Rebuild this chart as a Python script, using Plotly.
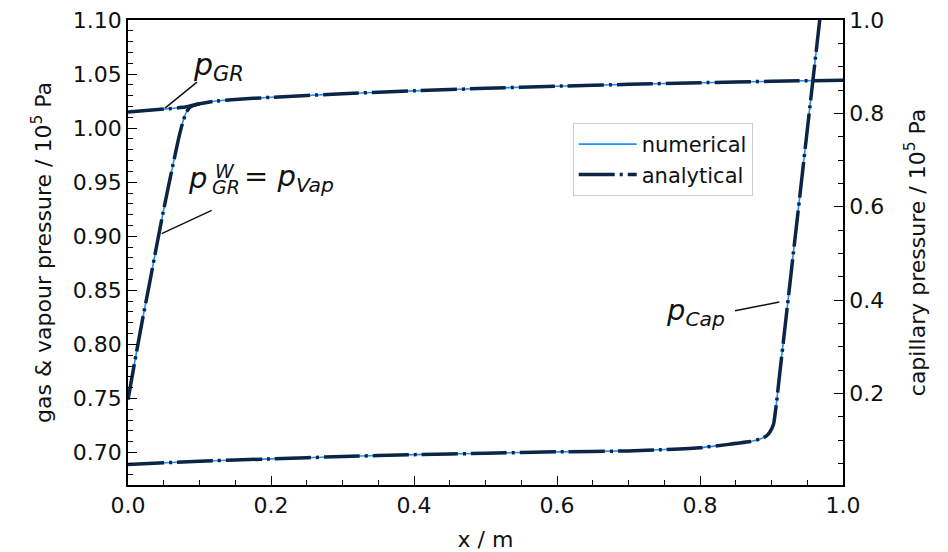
import plotly.graph_objects as go

# ---- data ----
x_gas = [0.0, 0.05, 0.08, 0.10, 0.12, 0.15, 0.20, 0.30, 0.40, 0.50, 0.60, 0.70, 0.80, 0.90, 1.00]
p_gas = [1.0148, 1.0176, 1.0195, 1.0225, 1.0248, 1.0265, 1.0285, 1.0318, 1.0345, 1.0368, 1.0388, 1.0405, 1.0420, 1.0433, 1.0444]

x_vap = [0.0, 0.01, 0.02, 0.03, 0.04, 0.05, 0.06, 0.07, 0.076, 0.081, 0.086, 0.092, 0.10]
p_vap = [0.749, 0.786, 0.822, 0.856, 0.891, 0.925, 0.957, 0.988, 1.004, 1.014, 1.019, 1.021, 1.0225]

x_cap = [0.0, 0.1, 0.2, 0.3, 0.4, 0.5, 0.6, 0.7, 0.75, 0.8, 0.84, 0.87, 0.885, 0.893, 0.898,
         0.903, 0.907, 0.91, 0.92, 0.93, 0.94, 0.95, 0.96, 0.97]
p_cap = [0.048, 0.055, 0.060, 0.065, 0.069, 0.072, 0.075, 0.077, 0.080, 0.084, 0.091, 0.097, 0.103,
         0.109, 0.118, 0.135, 0.180, 0.222, 0.357, 0.493, 0.628, 0.764, 0.899, 1.035]

x_ticks = [0.0, 0.2, 0.4, 0.6, 0.8, 1.0]
y_left_ticks = [0.70, 0.75, 0.80, 0.85, 0.90, 0.95, 1.00, 1.05, 1.10]
y_right_ticks = [0.2, 0.4, 0.6, 0.8, 1.0]

NUM_C = "#1E90FF"
ANA_C = "#0B2545"
FONT = "DejaVu Sans"
TXT_C = "#111111"

fig = go.Figure()

series = [(x_gas, p_gas, "y"), (x_vap, p_vap, "y"), (x_cap, p_cap, "y2")]
for i, (xs, ys, ax) in enumerate(series):
    fig.add_trace(go.Scatter(x=xs, y=ys, yaxis=ax, mode="lines", name="numerical",
                             line=dict(color=NUM_C, width=1.6, shape="spline", smoothing=0.4),
                             showlegend=(i == 0), legendrank=1))
for i, (xs, ys, ax) in enumerate(series):
    fig.add_trace(go.Scatter(x=xs, y=ys, yaxis=ax, mode="lines", name="analytical",
                             line=dict(color=ANA_C, width=3.5, dash="36px,5px,3px,5px",
                                       shape="spline", smoothing=0.4),
                             showlegend=(i == 0), legendrank=2))

# ---- annotations ----
txt = dict(color=TXT_C, family=FONT)
ann = []
ann.append(dict(x=0.127, y=1.0572, xref="x", yref="y", showarrow=False,
                text="<i>p</i><sub><i>GR</i></sub>", font=dict(size=30, **txt)))
# p_GR^W = p_Vap  (stacked super/subscript)
dx = 0.010
ann.append(dict(x=0.0865 + dx, y=0.9535, xref="x", yref="y", showarrow=False,
                text="<i>p</i>", font=dict(size=29, **txt)))
ann.append(dict(x=0.1255 + dx, y=0.9605, xref="x", yref="y", showarrow=False,
                text="<i>W</i>", font=dict(size=19, **txt)))
ann.append(dict(x=0.1265 + dx, y=0.9455, xref="x", yref="y", showarrow=False,
                text="<i>GR</i>", font=dict(size=19, **txt)))
ann.append(dict(x=0.2145 + dx, y=0.9535, xref="x", yref="y", showarrow=False,
                text="= <i>p</i><sub><i>Vap</i></sub>", font=dict(size=29, **txt)))
ann.append(dict(x=0.793, y=0.375, xref="x", yref="y2", showarrow=False,
                text="<i>p</i><sub><i>Cap</i></sub>", font=dict(size=29, **txt)))
fig.update_layout(annotations=ann)

shapes = [
    dict(type="line", xref="x", yref="y", x0=0.0965, y0=1.0426, x1=0.0517, y1=1.0185,
         line=dict(color=TXT_C, width=1.5)),
    dict(type="line", xref="x", yref="y", x0=0.117, y0=0.924, x1=0.0471, y1=0.9025,
         line=dict(color=TXT_C, width=1.5)),
    dict(type="line", xref="x", yref="y2", x0=0.849, y0=0.377, x1=0.911, y1=0.396,
         line=dict(color=TXT_C, width=1.5)),
]
fig.update_layout(shapes=shapes)

axis_common = dict(showline=True, linecolor="black", linewidth=1.5, ticks="inside",
                   ticklen=9, tickwidth=1.3, tickcolor="black", showgrid=False, zeroline=False,
                   automargin=False, ticklabeloverflow="allow",
                   tickfont=dict(size=22, family=FONT, color=TXT_C))

# the page adds an 8px body margin, so the figure is sized 8px smaller
fig.update_layout(
    width=940, height=544,
    margin=dict(l=120, r=105, t=12, b=67, autoexpand=False),
    paper_bgcolor="white", plot_bgcolor="white",
    font=dict(family=FONT, size=22, color=TXT_C),
    xaxis=dict(range=[0, 1], tickvals=x_ticks, tickformat=".1f", mirror=True,
               minor=dict(dtick=0.05, tick0=0, ticklen=5, ticks="inside", tickcolor="black"),
               title=dict(text="x / m", font=dict(size=22), standoff=14),
               **axis_common),
    yaxis=dict(range=[0.67, 1.10], tickvals=y_left_ticks, tickformat=".2f", mirror=True,
               minor=dict(dtick=0.01, tick0=0.70, ticklen=5, ticks="inside", tickcolor="black"),
               title=dict(text="gas &amp; vapour pressure / 10<sup>5</sup> Pa", font=dict(size=22), standoff=15),
               **axis_common),
    yaxis2=dict(range=[0.004, 1.0], tickvals=y_right_ticks, tickformat=".1f", overlaying="y",
                side="right", anchor="x",
                minor=dict(dtick=0.05, tick0=0.0, ticklen=5, ticks="inside", tickcolor="black"),
                title=dict(text="capillary pressure / 10<sup>5</sup> Pa", font=dict(size=22), standoff=26),
                **axis_common),
    legend=dict(x=0.622, y=0.7785, xanchor="left", yanchor="top", bgcolor="rgba(255,255,255,0.9)",
                bordercolor="#cccccc", borderwidth=1, font=dict(size=21, family=FONT),
                itemwidth=58, tracegroupgap=2),
    showlegend=True,
)

fig.write_html("out.html")
